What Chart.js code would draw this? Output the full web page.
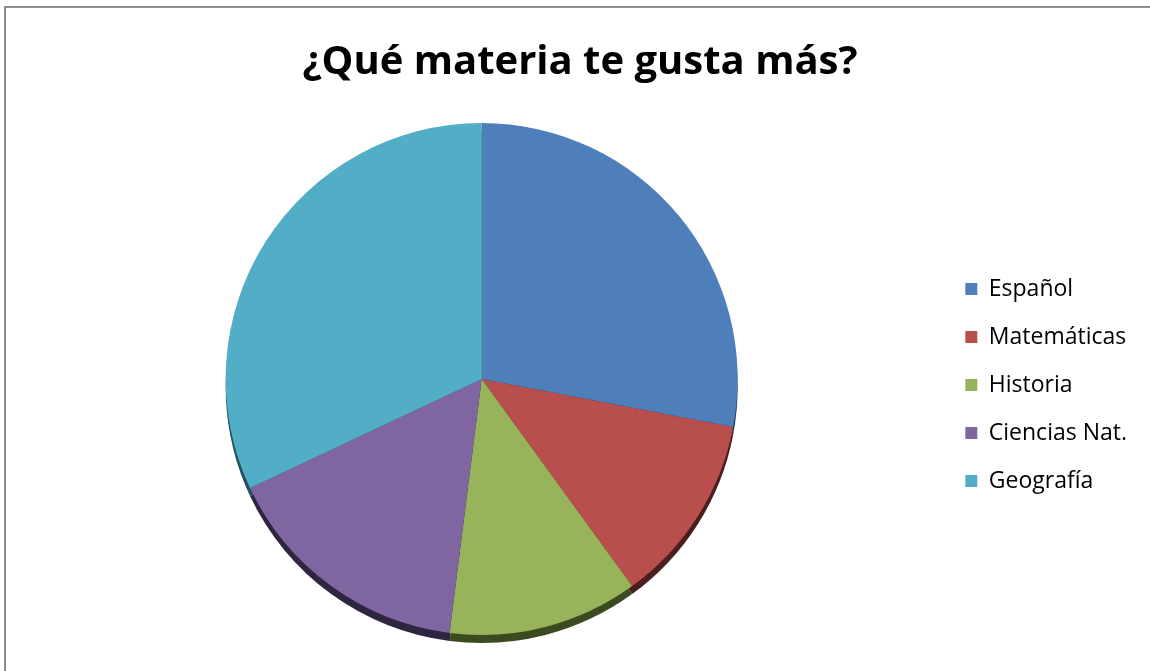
<!DOCTYPE html>
<html>
<head>
<meta charset="utf-8">
<title>¿Qué materia te gusta más?</title>
<script src="https://cdn.jsdelivr.net/npm/chart.js@4.4.0/dist/chart.umd.min.js"></script>
<style>
    body { margin: 0; background: #fff; overflow: hidden; }
    #frame { position: absolute; left: 4px; top: 6px; width: 1200px; height: 720px; border: 2px solid #8e8e8e; box-sizing: border-box; }
    #wrap { position: absolute; left: 0; top: 0; width: 1150px; height: 671px; }
</style>
</head>
<body>
<div id="frame"></div>
<div id="wrap"><canvas id="pie-chart"></canvas></div>
<script>
const materias = ["Español", "Matemáticas", "Historia", "Ciencias Nat.", "Geografía"];
const votos = [7, 3, 3, 4, 8];
const colores = ["#4e7fba", "#b94f4c", "#97b45a", "#7f66a0", "#52adc6"];
const coloresBorde = ["#22385a", "#4a1f1e", "#3b4a20", "#2f2540", "#245060"];

// dark edge under the pie, gives it a bit of thickness
const pieRim = {
    id: "pieRim",
    beforeDatasetsDraw(chart) {
        const ctx = chart.ctx;
        chart.getDatasetMeta(0).data.forEach((arc, i) => {
            const p = arc.getProps(["x", "y", "startAngle", "endAngle", "outerRadius"]);
            ctx.save();
            ctx.fillStyle = coloresBorde[i];
            ctx.beginPath();
            ctx.moveTo(p.x, p.y + 8);
            ctx.arc(p.x, p.y + 8, p.outerRadius, p.startAngle, p.endAngle);
            ctx.closePath();
            ctx.fill();
            ctx.restore();
        });
    }
};

new Chart(document.getElementById("pie-chart").getContext("2d"), {
    type: "pie",
    data: {
        labels: materias,
        datasets: [{
            data: votos,
            backgroundColor: colores,
            borderWidth: 0
        }]
    },
    options: {
        responsive: true,
        maintainAspectRatio: false,
        animation: false,
        layout: {
            padding: {left: 23, right: 13, top: 0, bottom: 36}
        },
        plugins: {
            title: {
                display: true,
                text: "¿Qué materia te gusta más?",
                color: "#000",
                font: {family: "'Open Sans'", size: 40, weight: "bold"},
                padding: {top: 39, bottom: 36}
            },
            legend: {
                position: "right",
                fullSize: false,
                // empty title only pushes the items down a little
                title: {display: true, text: "", font: {size: 10}, padding: 0},
                labels: {
                    color: "#000",
                    font: {family: "'Open Sans'", size: 23},
                    boxWidth: 12,
                    boxHeight: 12,
                    padding: 25
                }
            },
            tooltip: {enabled: false}
        }
    },
    plugins: [pieRim]
});
</script>
</body>
</html>
